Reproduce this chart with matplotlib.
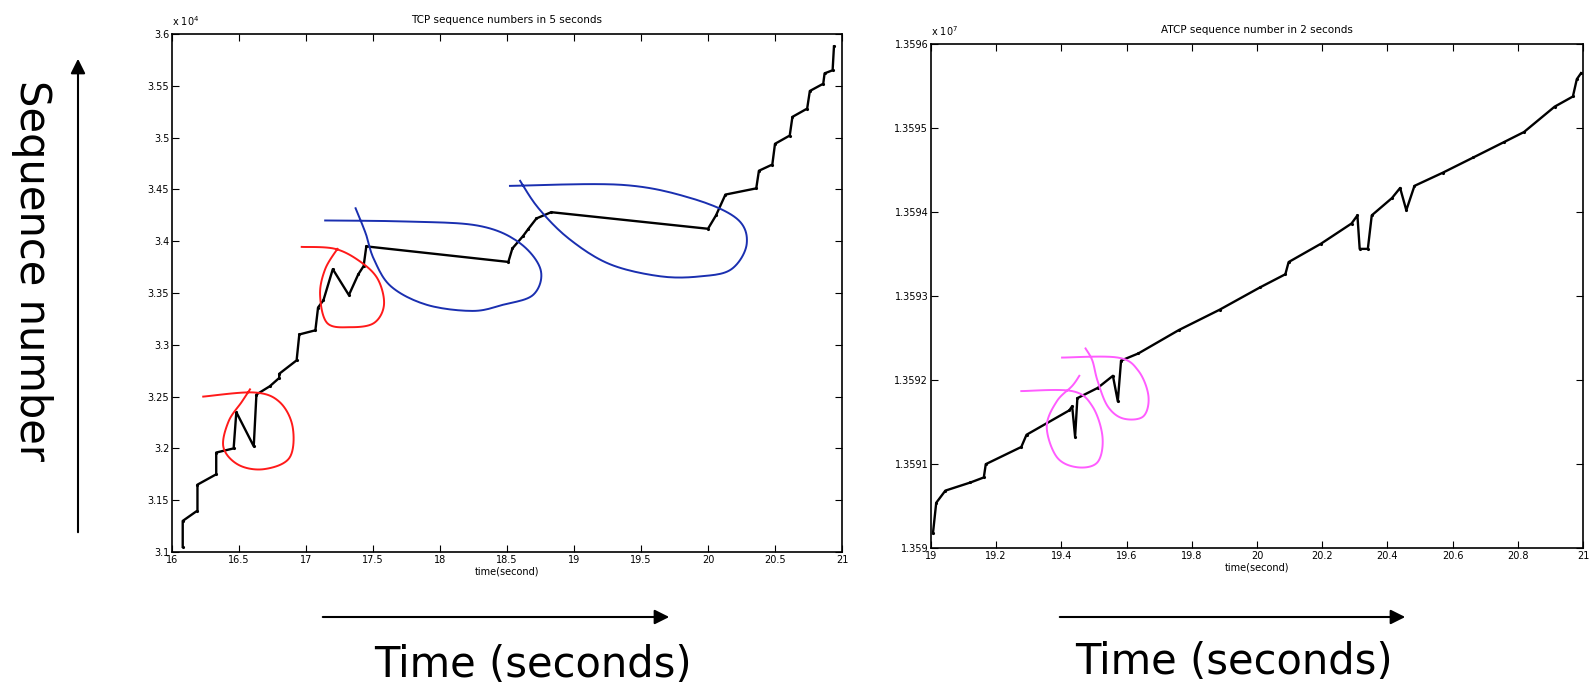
import numpy as np
import matplotlib
matplotlib.use("Agg")
import matplotlib.pyplot as plt

# TCP trace over 5 seconds (time in s, sequence number x 10^4)
tcp_time = [16.08, 16.08, 16.19, 16.19, 16.33, 16.33, 16.46, 16.48, 16.61, 16.63,
            16.73, 16.80, 16.80, 16.93, 16.95, 17.07, 17.09, 17.13, 17.20, 17.32,
            17.39, 17.43, 17.45, 18.51, 18.54, 18.62, 18.66, 18.72, 18.83, 20.00,
            20.06, 20.13, 20.36, 20.38, 20.48, 20.50, 20.61, 20.63, 20.74, 20.76,
            20.86, 20.87, 20.93, 20.94]
tcp_seq = [3.105, 3.130, 3.140, 3.165, 3.175, 3.196, 3.200, 3.235, 3.202, 3.252,
           3.260, 3.268, 3.272, 3.285, 3.310, 3.314, 3.336, 3.343, 3.373, 3.348,
           3.368, 3.376, 3.395, 3.380, 3.393, 3.405, 3.412, 3.422, 3.428, 3.412,
           3.425, 3.445, 3.451, 3.468, 3.474, 3.494, 3.502, 3.520, 3.528, 3.545,
           3.552, 3.562, 3.565, 3.588]

# ATCP trace over 2 seconds
atcp_time = [19.006, 19.016, 19.044, 19.121, 19.162, 19.168, 19.277, 19.293, 19.424, 19.433,
             19.442, 19.449, 19.511, 19.558, 19.573, 19.583, 19.636, 19.760, 19.885, 20.009,
             20.087, 20.097, 20.196, 20.290, 20.308, 20.315, 20.340, 20.352, 20.414, 20.439,
             20.458, 20.483, 20.570, 20.664, 20.757, 20.819, 20.913, 20.969, 20.981, 20.994]
atcp_seq = [1.3590175, 1.3590538, 1.3590683, 1.3590780, 1.3590840, 1.3590998, 1.3591203,
            1.3591348, 1.3591638, 1.3591687, 1.3591324, 1.3591784, 1.3591905, 1.3592050,
            1.3591747, 1.3592231, 1.3592316, 1.3592594, 1.3592836, 1.3593102, 1.3593259,
            1.3593404, 1.3593622, 1.3593863, 1.3593960, 1.3593561, 1.3593561, 1.3593960,
            1.3594166, 1.3594286, 1.3594021, 1.3594311, 1.3594468, 1.3594650, 1.3594831,
            1.3594952, 1.3595254, 1.3595375, 1.3595581, 1.3595653]

tcp_xticks = np.arange(16, 21.01, 0.5)
tcp_yticks = np.arange(3.1, 3.601, 0.05)
atcp_xticks = np.arange(19, 21.01, 0.2)
atcp_yticks = np.arange(1.359, 1.35961, 0.0001)

# hand drawn loops around the retransmission spots
red_loops = [
    ([16.233, 16.612, 16.801, 16.900, 16.877, 16.688, 16.498, 16.384, 16.422, 16.521, 16.582],
     [3.250, 3.254, 3.245, 3.221, 3.191, 3.180, 3.184, 3.201, 3.226, 3.245, 3.257]),
    ([16.968, 17.218, 17.408, 17.537, 17.582, 17.507, 17.332, 17.158, 17.105, 17.143, 17.234],
     [3.3945, 3.3926, 3.380, 3.3631, 3.3386, 3.3210, 3.3170, 3.3210, 3.3484, 3.3730, 3.3926]),
]
blue_loops = [
    ([17.143, 17.749, 18.280, 18.583, 18.750, 18.697, 18.469, 18.242, 17.901, 17.635, 17.506, 17.446, 17.370],
     [3.4200, 3.4190, 3.4151, 3.3994, 3.3729, 3.3484, 3.3386, 3.3327, 3.3386, 3.3563, 3.3828, 3.4073, 3.4318]),
    ([18.522, 19.356, 19.872, 20.213, 20.289, 20.175, 19.948, 19.645, 19.266, 18.962, 18.735, 18.598],
     [3.4534, 3.4544, 3.4416, 3.4220, 3.3975, 3.3730, 3.3661, 3.3661, 3.3779, 3.4024, 3.4318, 3.4583]),
]
pink_loops = [
    ([19.277, 19.433, 19.495, 19.526, 19.511, 19.449, 19.386, 19.355, 19.386, 19.433, 19.455],
     [1.3591868, 1.3591868, 1.3591687, 1.3591324, 1.3591022, 1.3590961, 1.3591082, 1.3591445,
      1.3591747, 1.3591929, 1.3592050]),
    ([19.402, 19.573, 19.636, 19.667, 19.651, 19.589, 19.542, 19.511, 19.495, 19.474],
     [1.3592267, 1.3592267, 1.3592110, 1.3591808, 1.3591566, 1.3591542, 1.3591687, 1.3591989,
      1.3592231, 1.3592376]),
]

W, H = 1593, 692
fig = plt.figure(figsize=(W / 100, H / 100), dpi=100)


def px_box(x0, y0, x1, y1):
    return [x0 / W, 1 - y1 / H, (x1 - x0) / W, (y1 - y0) / H]


def smooth_stroke(xs, ys, n=12):
    # catmull-rom through the pen points so the loops look hand drawn
    p = np.column_stack([xs, ys])
    p = np.vstack([p[0], p, p[-1]])
    out = []
    for i in range(1, len(p) - 2):
        p0, p1, p2, p3 = p[i - 1], p[i], p[i + 1], p[i + 2]
        for t in np.linspace(0, 1, n, endpoint=False):
            out.append(0.5 * (2 * p1 + (p2 - p0) * t
                              + (2 * p0 - 5 * p1 + 4 * p2 - p3) * t ** 2
                              + (3 * p1 - p0 - 3 * p2 + p3) * t ** 3))
    out.append(p[-1])
    out = np.array(out)
    return out[:, 0], out[:, 1]


def matlab_axes(box, xticks, yticks, title, exponent):
    ax = fig.add_axes(box)
    ax.set_xticks(xticks)
    ax.set_yticks(yticks)
    ax.set_xticklabels(['%g' % round(v, 4) for v in xticks])
    ax.set_yticklabels(['%g' % round(v, 5) for v in yticks])
    ax.set_xlim(xticks[0], xticks[-1])
    ax.set_ylim(yticks[0], yticks[-1])
    ax.tick_params(direction='in', top=True, right=True, length=5, width=0.8,
                   labelsize=7, pad=2)
    for s in ax.spines.values():
        s.set_linewidth(1.2)
    ax.set_title(title, fontsize=7.5, pad=8)
    ax.set_xlabel('time(second)', fontsize=7, labelpad=1)
    ax.text(0.0, 1.012, exponent, transform=ax.transAxes, fontsize=7,
            ha='left', va='bottom')
    return ax


ax1 = matlab_axes(px_box(172, 34, 842, 552), tcp_xticks, tcp_yticks,
                  'TCP sequence numbers in 5 seconds', r'x 10$^4$')
ax1.plot(tcp_time, tcp_seq, color='black', lw=1.7, marker='.', ms=2.5)
for xs, ys in red_loops:
    ax1.plot(*smooth_stroke(xs, ys), color='#ff1a1a', lw=1.4, clip_on=False)
for xs, ys in blue_loops:
    ax1.plot(*smooth_stroke(xs, ys), color='#1a2fb0', lw=1.4, clip_on=False)

ax2 = matlab_axes(px_box(931, 44, 1583, 548), atcp_xticks, atcp_yticks,
                  'ATCP sequence number in 2 seconds', r'x 10$^7$')
ax2.plot(atcp_time, atcp_seq, color='black', lw=1.7, marker='.', ms=2.5)
for xs, ys in pink_loops:
    ax2.plot(*smooth_stroke(xs, ys), color='#ff5cff', lw=1.4, clip_on=False)

# big captions and arrows around the two plots
fig.text(32 / W, 1 - 270 / H, 'Sequence number', rotation=-90, fontsize=30,
         ha='center', va='center')
arrow = dict(arrowstyle='-|>', color='black', lw=1.5, mutation_scale=22)
fig.add_artist(matplotlib.patches.FancyArrowPatch(
    (78 / W, 1 - 535 / H), (78 / W, 1 - 56 / H), transform=fig.transFigure, **arrow))
fig.add_artist(matplotlib.patches.FancyArrowPatch(
    (320 / W, 1 - 617 / H), (672 / W, 1 - 617 / H), transform=fig.transFigure, **arrow))
fig.add_artist(matplotlib.patches.FancyArrowPatch(
    (1057 / W, 1 - 617 / H), (1408 / W, 1 - 617 / H), transform=fig.transFigure, **arrow))
fig.text(533 / W, 1 - 665 / H, 'Time (seconds)', fontsize=30, ha='center', va='center')
fig.text(1234 / W, 1 - 662 / H, 'Time (seconds)', fontsize=30, ha='center', va='center')

fig.savefig('out.png', dpi=100)
